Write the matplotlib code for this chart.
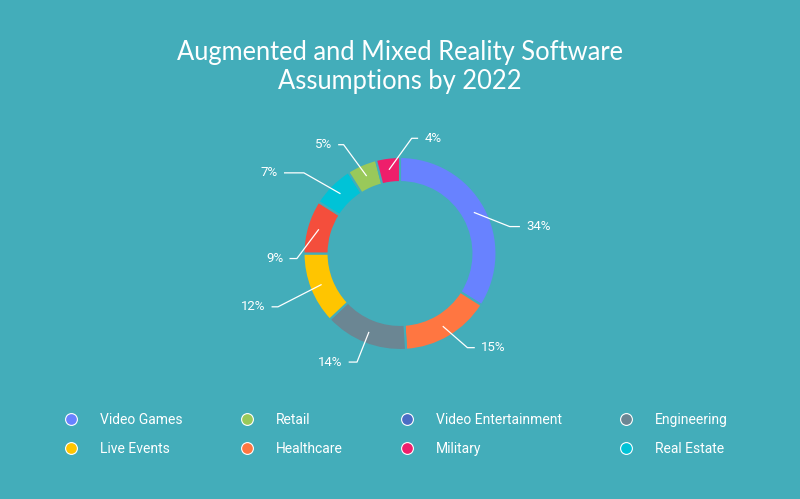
import matplotlib.pyplot as plt
from matplotlib.lines import Line2D
import numpy as np

# slices, clockwise from 12 o'clock
categories = ['Video Games', 'Healthcare', 'Engineering', 'Live Events',
              'Video Entertainment', 'Real Estate', 'Retail', 'Military']
shares = [34, 15, 14, 12, 9, 7, 5, 4]
slice_colors = ['#6882ff', '#ff7641', '#6b8693', '#ffc500',
                '#f44e3c', '#00c3d7', '#99c95a', '#ee1f6b']

# legend, as it reads row by row
legend_names = ['Video Games', 'Retail', 'Video Entertainment', 'Engineering',
                'Live Events', 'Healthcare', 'Military', 'Real Estate']
legend_colors = ['#6882ff', '#99c95a', '#4a6dc5', '#6b8693',
                 '#ffc500', '#ff7641', '#ee1f6b', '#00c3d7']

title = 'Augmented and Mixed Reality Software\nAssumptions by 2022'
bg = '#43adba'

# label leader layout: turn of the elbow (deg, clockwise), its radius, tail length
elbow_turn = [15, -5, 0, -2, -19, -5, -4, 13]
elbow_r = [1.17, 1.2, 1.21, 1.38, 1.07, 1.3, 1.27, 1.2]
tail = [0.1, 0.07, 0.08, 0.06, 0.07, 0.2, 0.05, 0.06]

fig = plt.figure(figsize=(8, 4.99), dpi=100, facecolor=bg)

# donut centre at (400, 253) px, outer radius ~96 px
R = 96.5
cx, cy = 400, 253.5
aw, ah = 400, 300
ax = fig.add_axes([(cx - aw / 2) / 800, (499 - cy - ah / 2) / 499, aw / 800, ah / 499])
ax.set_facecolor(bg)

wedges, _ = ax.pie(shares, colors=slice_colors, startangle=90, counterclock=False,
                   radius=1, wedgeprops=dict(width=0.26, edgecolor=bg, linewidth=1.5))
ax.set_xlim(-aw / 2 / R, aw / 2 / R)
ax.set_ylim(-ah / 2 / R, ah / 2 / R)
ax.axis('off')

for w, val, turn, er, tl in zip(wedges, shares, elbow_turn, elbow_r, tail):
    mid = np.deg2rad((w.theta1 + w.theta2) / 2)
    x0, y0 = 0.88 * np.cos(mid), 0.88 * np.sin(mid)
    a = mid - np.deg2rad(turn)
    x1, y1 = er * np.cos(a), er * np.sin(a)
    side = 1 if x1 >= 0 else -1
    x2 = x1 + side * tl
    ax.plot([x0, x1, x2], [y0, y1, y1], color='white', lw=0.9, clip_on=False)
    ax.text(x2 + side * 0.07, y1, f'{val}%', color='white', fontsize=9.5,
            family='Roboto', ha='left' if side > 0 else 'right', va='center')

fig.text(0.5, 1 - 67 / 499, title, ha='center', va='center', color='white',
         fontsize=18.4, family='Lato', linespacing=1.18)

handles = [Line2D([], [], ls='none', marker='o', markersize=8.5, markerfacecolor=c,
                  markeredgecolor='white', markeredgewidth=0.8) for c in legend_colors]
order = [0, 4, 1, 5, 2, 6, 3, 7]
leg = fig.legend([handles[i] for i in order], [legend_names[i] for i in order],
                 ncol=4, loc='upper left', bbox_to_anchor=(64 / 800, 1 - 413 / 499),
                 frameon=False, borderpad=0, borderaxespad=0, handlelength=1.0,
                 handletextpad=1.6, columnspacing=4.1, labelspacing=1.1,
                 prop=dict(family='Roboto', size=10))
for t in leg.get_texts():
    t.set_color('white')

fig.savefig('out.png', dpi=100, facecolor=bg)
